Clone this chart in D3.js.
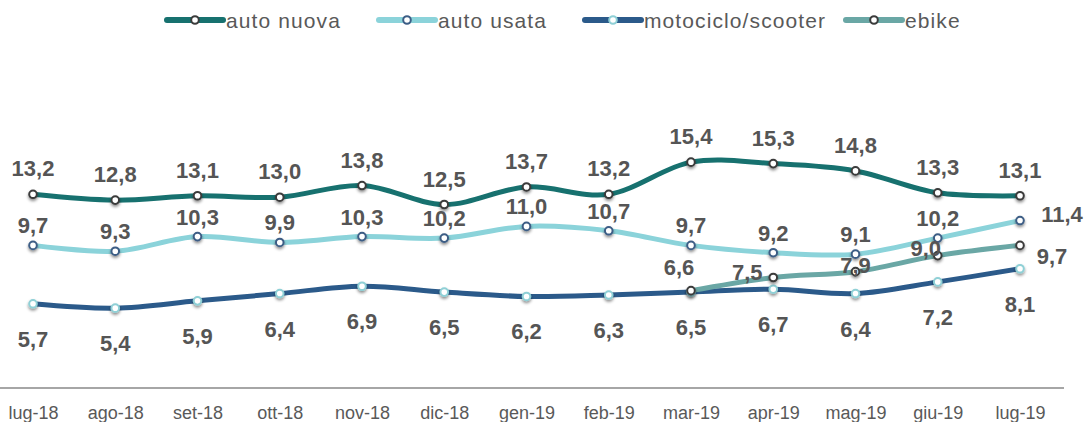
<!DOCTYPE html>
<html>
<head>
<meta charset="utf-8">
<script src="https://cdnjs.cloudflare.com/ajax/libs/d3/7.8.5/d3.min.js"></script>
<style>
  body { margin: 0; background: #fff; }
  text { font-family: "Liberation Sans", Arial, sans-serif; }
</style>
</head>
<body>
<script>

// data
var months = ["lug-18","ago-18","set-18","ott-18","nov-18","dic-18","gen-19","feb-19","mar-19","apr-19","mag-19","giu-19","lug-19"]
var autoNuova = [13.2,12.8,13.1,13.0,13.8,12.5,13.7,13.2,15.4,15.3,14.8,13.3,13.1]
var autoUsata = [9.7,9.3,10.3,9.9,10.3,10.2,11.0,10.7,9.7,9.2,9.1,10.2,11.4]
var moto = [5.7,5.4,5.9,6.4,6.9,6.5,6.2,6.3,6.5,6.7,6.4,7.2,8.1]
var ebike = [null,null,null,null,null,null,null,null,6.6,7.5,7.9,9.0,9.7]
var seriesNames = ["auto nuova","auto usata","motociclo/scooter","ebike"]

var width = 1086, height = 422

var svg = d3.select("body")
    .append("svg")
    .attr("width", width)
    .attr("height", height)

// shadow under the markers
var defs = svg.append("defs")
var f = defs.append("filter").attr("id", "shadow")
    .attr("x", "-100%").attr("y", "-100%").attr("width", "300%").attr("height", "300%")
f.append("feDropShadow")
    .attr("dx", 0).attr("dy", 2)
    .attr("stdDeviation", 1.6)
    .attr("flood-color", "#000")
    .attr("flood-opacity", 0.45)

var x = d3.scalePoint()
    .domain(months)
    .range([33, 1020])

var y = d3.scaleLinear()
    .domain([0, 20])
    .range([387, 95])

var fmt = function(v) { return d3.format(".1f")(v).replace(".", ",") }

// one entry per series, styling kept here
var series = [
  {name: seriesNames[0], values: autoNuova, color: "#17716f", ring: "#3b3b3b"},
  {name: seriesNames[1], values: autoUsata, color: "#8bd3da", ring: "#3c5d85"},
  {name: seriesNames[2], values: moto,      color: "#2b5a8a", ring: "#8fd0d6"},
  {name: seriesNames[3], values: ebike,     color: "#6aa7a5", ring: "#3b3b3b"}
]

// x axis: just a grey line and the labels
svg.append("line")
    .attr("x1", 0).attr("x2", 1064)
    .attr("y1", 388).attr("y2", 388)
    .attr("stroke", "#a6a6a6")
    .attr("stroke-width", 2)

var xAxis = svg.append("g")
    .attr("transform", "translate(0,388)")
    .call(d3.axisBottom(x).tickSize(0).tickPadding(0))
xAxis.select(".domain").remove()
xAxis.selectAll("text")
    .attr("dy", null)
    .attr("y", 31)
    .attr("fill", "#595959")
    .style("font-size", "18px")
    .style("font-family", "'Liberation Sans', Arial, sans-serif")

var line = d3.line()
    .defined(function(d) { return d != null })
    .x(function(d, i) { return x(months[i]) })
    .y(function(d) { return y(d) })
    .curve(d3.curveCardinal.tension(0))

// lines
series.forEach(function(s) {
  svg.append("path")
      .datum(s.values)
      .attr("fill", "none")
      .attr("stroke", s.color)
      .attr("stroke-width", 5)
      .attr("stroke-linecap", "round")
      .attr("d", line)
})

// markers
series.forEach(function(s) {
  svg.append("g")
      .selectAll("circle")
      .data(s.values.map(function(v, i) { return {v: v, i: i} }).filter(function(d) { return d.v != null }))
      .enter().append("circle")
        .attr("cx", function(d) { return x(months[d.i]) })
        .attr("cy", function(d) { return y(d.v) })
        .attr("r", 3.8)
        .attr("fill", "#fff")
        .attr("stroke", s.ring)
        .attr("stroke-width", 2)
        .attr("filter", "url(#shadow)")
})

// label placement (excel put them a bit by hand)
var ebikeShift = [[-12,-16],[-26,2],[0,1],[-12,0],[32,19]]
function labelPos(si, i) {
  if (si == 0) return [0, -18]
  if (si == 1) return i == months.length - 1 ? [42, 1] : [0, -12]
  if (si == 2) return [0, 43]
  return ebikeShift[i - 8]
}

series.forEach(function(s, si) {
  svg.append("g")
      .selectAll("text")
      .data(s.values.map(function(v, i) { return {v: v, i: i} }).filter(function(d) { return d.v != null }))
      .enter().append("text")
        .attr("x", function(d) { return x(months[d.i]) + labelPos(si, d.i)[0] })
        .attr("y", function(d) { return y(d.v) + labelPos(si, d.i)[1] })
        .attr("text-anchor", "middle")
        .attr("fill", "#555555")
        .style("font-size", "22px")
        .style("font-weight", "bold")
        .text(function(d) { return fmt(d.v) })
})

// legend
var legendX = [167, 379, 585, 846]
var legend = svg.append("g")
    .selectAll("g")
    .data(series)
    .enter().append("g")
      .attr("transform", function(d, i) { return "translate(" + legendX[i] + ",20)" })

legend.append("line")
    .attr("x1", 0).attr("x2", 56)
    .attr("stroke", function(d) { return d.color })
    .attr("stroke-width", 6)
    .attr("stroke-linecap", "round")
legend.append("circle")
    .attr("cx", 28)
    .attr("r", 3.8)
    .attr("fill", "#fff")
    .attr("stroke", function(d) { return d.ring })
    .attr("stroke-width", 2)
legend.append("text")
    .attr("x", 59)
    .attr("y", 8)
    .attr("fill", "#595959")
    .style("font-size", "21px")
    .style("letter-spacing", "1.1px")
    .text(function(d) { return d.name })

</script>
</body>
</html>
